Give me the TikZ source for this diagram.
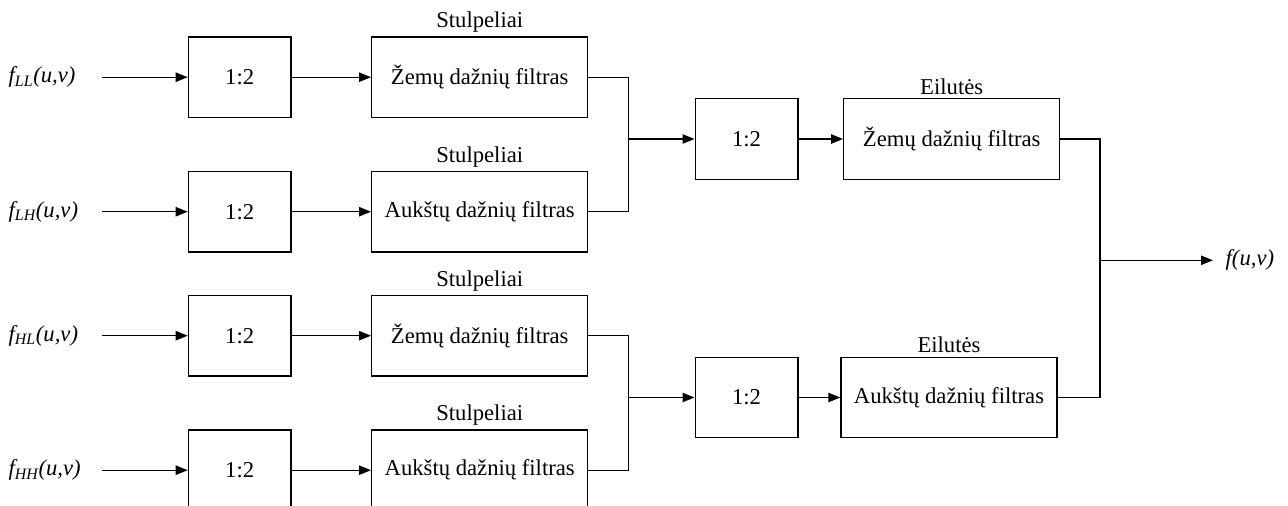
\documentclass[tikz,border=0pt]{standalone}
\usepackage{fontspec}
\setmainfont{Liberation Serif}
\usetikzlibrary{arrows.meta}

\tikzset{
	dal/.style={draw,minimum width=77pt,minimum height=60.4pt,inner sep=0pt},
	filtr/.style={draw,minimum width=162pt,minimum height=60.4pt,inner sep=0pt},
	virsus/.style={anchor=base,inner sep=0pt},
}

\begin{document}
\begin{tikzpicture}[x=0.75pt,y=-0.75pt,line width=1pt,>={Triangle[length=9pt,width=7pt]},font=\fontsize{17}{20}\selectfont]
\path[use as bounding box,clip] (0,0) rectangle (1288,506);
% keturi iejimai
\foreach \i/\y/\s/\f in {1/77.2/LL/Žemų,2/211.7/LH/Aukštų,3/335.7/HL/Žemų,4/470.2/HH/Aukštų}{
	\node (in\i) [anchor=west,inner sep=0pt] at (8,\y) {\textit{f\textsubscript{\s}(u,v)}};
	\coordinate (s\i) at (101.7,\y);
	\node (d\i) [dal] at (239.7,\y) {1:2};
	\node (c\i) [filtr] at (479.7,\y) {\f{} dažnių filtras};
	\node (t\i) [virsus] at ([yshift=6.3pt]c\i.north) {Stulpeliai};
	\draw[->] (s\i) -- (d\i);
	\draw[->] (d\i) -- (c\i);
}
%
\coordinate (j1) at (628.3,139);
\coordinate (j2) at (628.3,397.5);
\node (m1) [dal] at (746.5,139) {1:2};
\node (m2) [dal] at (746.5,397.5) {1:2};
\node (e1) [filtr] at (951.7,139) {Žemų dažnių filtras};
\node (e2) [filtr] at (949,397.5) {Aukštų dažnių filtras};
\node (u1) [virsus] at ([yshift=3pt]e1.north) {Eilutės};
\node (u2) [virsus] at ([yshift=3pt]e2.north) {Eilutės};
\draw (c1) -| (j1) |- (c2);
\draw (c3) -| (j2) |- (c4);
\draw[->] (j1) -- (m1);
\draw[->] (j2) -- (m2);
\draw[->] (m1) -- (e1);
\draw[->] (m2) -- (e2);
%
\coordinate (j3) at (1100,260.3);
\node (out) [anchor=west,inner xsep=9pt,inner ysep=0pt] at (1213,260.3) {\textit{f(u,v)}};
\draw (e1) -| (j3) |- (e2);
\draw[->] (j3) -- (out);
\end{tikzpicture}
\end{document}
